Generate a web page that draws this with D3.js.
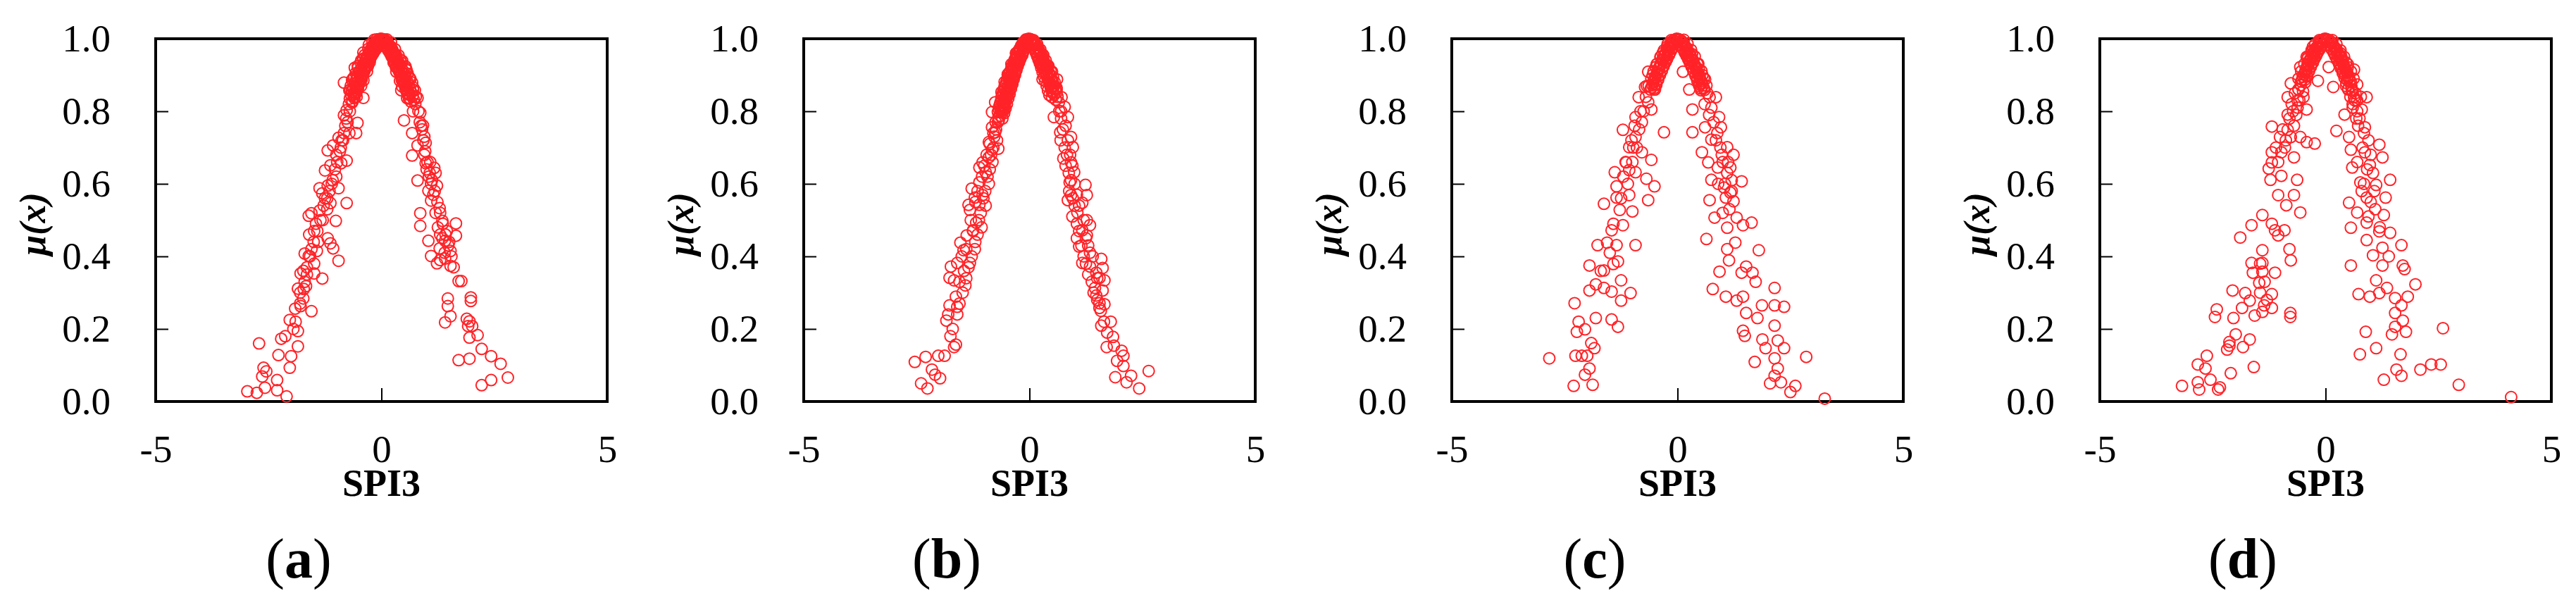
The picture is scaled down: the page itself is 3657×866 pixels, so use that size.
<!DOCTYPE html>
<html>
<head>
<meta charset="utf-8">
<script src="https://cdn.jsdelivr.net/npm/d3@7"></script>
<style>
  html, body { margin: 0; padding: 0; background: #fff; }
  svg { display: block; }
</style>
</head>
<body>
<script>
// ---------- data ----------
const panelIds = ["a", "b", "c", "d"];
const xTickValues = [-5, 0, 5];
const yTickValues = [0, 0.2, 0.4, 0.6, 0.8, 1.0];
const xAxisTitle = "SPI3";

// (a) dense peak points
const coreA = [[-0.01,1.0],[-0.04,0.999],[-0.07,0.996],[-0.1,0.993],[-0.13,0.99],[-0.05,0.985],[-0.16,0.985],[-0.2,0.98],[-0.1,0.975],[-0.23,0.972],[-0.14,0.968],[-0.26,0.965],[-0.18,0.96],[-0.3,0.955],[-0.22,0.952],[-0.33,0.948],[-0.25,0.944],[-0.36,0.94],[-0.29,0.936],[-0.4,0.93],[-0.32,0.928],[-0.43,0.922],[-0.35,0.92],[-0.47,0.914],[-0.38,0.91],[-0.5,0.905],[-0.42,0.9],[-0.53,0.896],[-0.45,0.892],[-0.56,0.886],[-0.48,0.882],[-0.59,0.876],[-0.51,0.872],[-0.62,0.865],[-0.54,0.862],[-0.65,0.855],[-0.57,0.85],[-0.67,0.845],[-0.6,0.84],[-0.7,0.835],[-0.27,0.962],[-0.4,0.945],[-0.52,0.92],[-0.3,0.925],[-0.6,0.895],[-0.45,0.87],[-0.68,0.87],[-0.55,0.84],[-0.08,0.982],[-0.2,0.958],
[-0.03,0.997],[-0.09,0.99],[-0.12,0.984],[-0.18,0.978],[-0.15,0.972],[-0.22,0.968],[-0.19,0.962],[-0.26,0.958],[-0.24,0.95],[-0.31,0.946],[-0.28,0.94],[-0.35,0.934],[-0.33,0.926],[-0.39,0.922],[-0.37,0.914],[-0.44,0.908],[-0.41,0.902],[-0.47,0.896],[-0.44,0.888],[-0.51,0.884],[-0.49,0.876],[-0.55,0.87],[-0.52,0.862],[-0.58,0.858],[-0.56,0.85],[-0.62,0.846],[-0.6,0.836],[-0.64,0.828],[-0.11,0.998],[-0.2,0.99],[-0.29,0.972],[-0.37,0.955],[-0.45,0.94],[-0.52,0.925],[-0.57,0.905],[-0.63,0.89],[-0.69,0.86],[-0.26,0.935],[-0.32,0.91],[-0.4,0.885],
[0.02,0.999],[0.05,0.998],[0.08,0.995],[0.11,0.992],[0.14,0.988],[0.06,0.984],[0.17,0.983],[0.21,0.978],[0.12,0.974],[0.24,0.97],[0.16,0.966],[0.27,0.962],[0.2,0.958],[0.31,0.953],[0.23,0.95],[0.34,0.946],[0.27,0.941],[0.37,0.937],[0.3,0.933],[0.41,0.928],[0.34,0.925],[0.44,0.92],[0.37,0.916],[0.48,0.911],[0.4,0.907],[0.51,0.902],[0.44,0.897],[0.54,0.893],[0.47,0.888],[0.57,0.883],[0.5,0.879],[0.6,0.873],[0.53,0.869],[0.63,0.862],[0.56,0.858],[0.66,0.852],[0.59,0.847],[0.69,0.842],[0.62,0.837],[0.72,0.832],[0.28,0.96],[0.42,0.942],[0.54,0.918],[0.32,0.922],[0.62,0.892],[0.46,0.868],[0.7,0.866],[0.57,0.836],[0.09,0.98],[0.22,0.955],
[0.03,0.996],[0.09,0.991],[0.13,0.985],[0.19,0.979],[0.16,0.971],[0.23,0.967],[0.2,0.961],[0.27,0.957],[0.25,0.949],[0.32,0.945],[0.29,0.939],[0.36,0.933],[0.34,0.925],[0.4,0.921],[0.38,0.913],[0.45,0.907],[0.42,0.901],[0.48,0.895],[0.45,0.887],[0.52,0.883],[0.5,0.875],[0.56,0.869],[0.53,0.861],[0.59,0.857],[0.57,0.849],[0.63,0.845],[0.61,0.835],[0.65,0.827],[0.12,0.998],[0.21,0.99],[0.3,0.971],[0.38,0.954],[0.46,0.939],[0.53,0.924],[0.58,0.904],[0.64,0.889],[0.7,0.859],[0.27,0.934],[0.33,0.909],[0.41,0.884]];
// (a) spread points
const pointsA = [[-2.97,0.028],[-2.76,0.024],[-2.71,0.16],[-2.61,0.093],[-2.55,0.083],[-2.64,0.069],[-2.31,0.059],[-2.31,0.031],[-2.58,0.038],[-2.10,0.014],[-2.03,0.093],[-2.0,0.125],[-2.28,0.128],[-1.85,0.152],[-2.22,0.173],[-2.13,0.18],[-2.03,0.225],[-1.85,0.194],[-1.91,0.256],[-1.79,0.263],[-1.55,0.249],[-1.73,0.284],[-1.85,0.311],[-1.67,0.318],[-1.79,0.353],[-1.73,0.36],[-1.49,0.353],[-1.70,0.408],[-1.31,0.339],[-1.61,0.401],[-1.49,0.38],[-1.43,0.415],[-1.13,0.436],[-0.95,0.388],[-1.49,0.47],[-1.19,0.45],[-1.07,0.422],[-1.61,0.512],[-1.55,0.519],[-1.37,0.526],[-1.31,0.574],[-1.13,0.547],[-1.01,0.498],[-0.77,0.547],[-1.37,0.588],[-1.19,0.595],[-0.95,0.588],[-1.25,0.637],[-1.13,0.651],[-0.89,0.657],[-0.77,0.664],[-1.19,0.692],[-1.07,0.706],[-0.95,0.727],[-0.83,0.74],[-0.71,0.74],[-0.56,0.74],[-0.53,0.768],[-0.83,0.789],[-0.77,0.803],[-0.65,0.824],[-0.40,0.837],[-0.83,0.879],[-0.71,0.858],[-0.65,0.886],[-0.53,0.893],[-0.59,0.92],[-0.46,0.934],[-0.40,0.962],[-0.28,0.983],[-0.16,0.997],
[-1.6,0.46],[-1.45,0.49],[-1.3,0.5],[-1.2,0.53],[-1.25,0.56],[-1.1,0.6],[-1.0,0.62],[-0.9,0.7],[-1.0,0.68],[-0.85,0.72],[-0.75,0.77],[-0.7,0.8],[-0.6,0.85],[-1.65,0.37],[-1.55,0.42],[-1.4,0.44],[-1.8,0.3],[-1.7,0.33],[-1.9,0.22],[-1.95,0.2],
[-0.72,0.82],[-0.78,0.78],[-0.8,0.76],[-0.88,0.72],[-0.92,0.69],[-0.98,0.66],[-1.03,0.64],[-1.08,0.61],[-1.15,0.58],[-1.2,0.56],[-1.28,0.54],[-1.35,0.5],[-1.42,0.47],[-1.5,0.44],[-1.58,0.4],[-1.65,0.35],[-1.72,0.31],[-1.8,0.27],
[0.08,0.997],[0.2,0.976],[0.32,0.955],[0.44,0.934],[0.56,0.913],[0.62,0.893],[0.68,0.879],[0.44,0.858],[0.74,0.858],[0.80,0.837],[0.86,0.796],[0.50,0.775],[0.92,0.761],[0.68,0.74],[0.98,0.713],[0.80,0.706],[0.68,0.678],[0.98,0.657],[1.17,0.644],[0.80,0.609],[1.23,0.595],[1.04,0.581],[1.10,0.554],[0.86,0.519],[1.29,0.533],[1.65,0.491],[0.86,0.484],[1.35,0.498],[1.65,0.457],[1.04,0.443],[1.41,0.443],[1.29,0.422],[1.53,0.415],[1.10,0.401],[1.23,0.381],[1.53,0.374],[1.41,0.394],[1.71,0.332],[1.77,0.332],[1.47,0.284],[1.47,0.263],[1.98,0.287],[1.98,0.277],[1.53,0.235],[1.41,0.218],[1.89,0.228],[1.95,0.221],[2.01,0.208],[1.92,0.208],[2.13,0.183],[1.95,0.176],[2.22,0.145],[2.43,0.125],[1.71,0.114],[1.95,0.118],[2.64,0.104],[2.80,0.066],[2.43,0.059],[2.22,0.045],
[0.9,0.75],[0.95,0.68],[1.0,0.64],[1.05,0.62],[1.1,0.6],[1.15,0.57],[1.2,0.52],[1.25,0.48],[1.3,0.46],[1.35,0.45],[1.45,0.47],[1.5,0.44],[1.4,0.41],[1.3,0.39],[0.75,0.82],[0.7,0.8],[0.95,0.73],[1.08,0.66],[1.2,0.63],[0.85,0.77],
[0.76,0.84],[0.82,0.8],[0.88,0.76],[0.93,0.72],[0.97,0.69],[1.02,0.66],[1.07,0.63],[1.12,0.61],[1.18,0.58],[1.24,0.55],[1.3,0.52],[1.36,0.49],[1.42,0.46],[1.48,0.43],[1.55,0.4],[1.6,0.37]];

// (b)
const coreB = [[-0.02,1.0],[-0.05,0.998],[-0.08,0.995],[-0.11,0.99],[-0.06,0.985],[-0.14,0.985],[-0.17,0.978],[-0.1,0.975],[-0.2,0.97],[-0.13,0.965],[-0.23,0.962],[-0.16,0.955],[-0.26,0.952],[-0.2,0.945],[-0.29,0.942],[-0.23,0.935],[-0.32,0.93],[-0.26,0.925],[-0.35,0.92],[-0.29,0.913],[-0.38,0.908],[-0.32,0.9],[-0.41,0.895],[-0.35,0.888],[-0.44,0.882],[-0.38,0.875],[-0.47,0.868],[-0.41,0.862],[-0.5,0.855],[-0.44,0.848],[-0.53,0.842],[-0.47,0.835],[-0.56,0.828],[-0.5,0.82],[-0.59,0.815],[-0.53,0.808],[-0.62,0.8],[-0.56,0.795],[-0.65,0.788],[-0.6,0.78],[-0.68,0.775],[-0.3,0.96],[-0.4,0.93],[-0.48,0.9],[-0.55,0.87],[-0.6,0.845],[-0.25,0.94],[-0.36,0.895],
[-0.03,0.998],[-0.08,0.998],[-0.06,0.99],[-0.14,0.99],[-0.09,0.982],[-0.18,0.982],[-0.12,0.974],[-0.21,0.974],[-0.14,0.966],[-0.25,0.966],[-0.17,0.958],[-0.28,0.958],[-0.2,0.95],[-0.3,0.95],[-0.22,0.942],[-0.33,0.942],[-0.25,0.934],[-0.35,0.934],[-0.27,0.926],[-0.38,0.926],[-0.29,0.918],[-0.4,0.918],[-0.31,0.91],[-0.43,0.91],[-0.33,0.902],[-0.45,0.902],[-0.36,0.894],[-0.47,0.894],[-0.38,0.886],[-0.5,0.886],[-0.4,0.878],[-0.52,0.878],[-0.42,0.87],[-0.54,0.87],[-0.44,0.862],[-0.56,0.862],[-0.46,0.854],[-0.58,0.854],[-0.48,0.846],[-0.6,0.846],[-0.5,0.838],[-0.62,0.838],[-0.52,0.83],[-0.63,0.83],[-0.54,0.822],[-0.65,0.822],[-0.55,0.814],[-0.67,0.814],[-0.57,0.806],[-0.68,0.806],[-0.59,0.798],[-0.7,0.798],[-0.07,0.994],[-0.15,0.978],[-0.22,0.962],[-0.28,0.946],[-0.32,0.93],[-0.37,0.914],[-0.41,0.898],[-0.45,0.882],[-0.49,0.866],[-0.53,0.85],[-0.57,0.834],[-0.6,0.818],[-0.64,0.802],
[0.02,0.999],[0.05,0.997],[0.08,0.993],[0.11,0.988],[0.06,0.983],[0.14,0.982],[0.17,0.975],[0.11,0.972],[0.2,0.967],[0.14,0.962],[0.23,0.958],[0.17,0.952],[0.26,0.948],[0.2,0.942],[0.29,0.938],[0.23,0.932],[0.32,0.927],[0.26,0.92],[0.35,0.915],[0.29,0.908],[0.38,0.903],[0.32,0.895],[0.41,0.89],[0.35,0.883],[0.44,0.877],[0.38,0.87],[0.47,0.865],[0.41,0.857],[0.5,0.852],[0.44,0.845],[0.3,0.955],[0.4,0.925],[0.48,0.89],[0.52,0.87],[0.25,0.93],
[0.03,0.997],[0.08,0.992],[0.06,0.989],[0.14,0.984],[0.1,0.981],[0.18,0.976],[0.13,0.972],[0.21,0.968],[0.16,0.963],[0.25,0.96],[0.19,0.954],[0.28,0.951],[0.22,0.945],[0.31,0.942],[0.25,0.936],[0.34,0.933],[0.28,0.927],[0.37,0.924],[0.31,0.918],[0.4,0.915],[0.34,0.909],[0.43,0.906],[0.37,0.9],[0.46,0.897],[0.4,0.891],[0.49,0.888],[0.43,0.882],[0.52,0.879],[0.46,0.873],[0.55,0.87],[0.49,0.864],[0.57,0.861],[0.52,0.855],[0.6,0.852],[0.55,0.846],[0.62,0.84],[0.58,0.832],[0.65,0.825],[0.09,0.996],[0.17,0.985],[0.24,0.97],[0.3,0.955],[0.36,0.94],[0.42,0.925],[0.47,0.91],[0.52,0.895],[0.56,0.88],[0.6,0.865]];
const pointsB = [[-2.54,0.109],[-2.30,0.123],[-2.40,0.050],[-2.26,0.036],[-2.16,0.088],[-2.09,0.074],[-1.98,0.064],[-2.02,0.126],[-1.88,0.126],[-1.67,0.150],[-1.63,0.157],[-1.84,0.223],[-1.80,0.240],[-1.77,0.265],[-1.60,0.261],[-1.63,0.289],[-1.77,0.341],[-1.67,0.334],[-1.42,0.320],[-1.74,0.372],[-1.60,0.382],[-1.32,0.382],[-1.53,0.438],[-1.46,0.417],[-1.21,0.420],[-1.39,0.458],[-1.25,0.472],[-1.18,0.493],[-1.32,0.528],[-1.35,0.542],[-1.21,0.562],[-1.28,0.587],[-1.11,0.542],[-1.04,0.569],[-1.11,0.604],[-0.97,0.632],[-1.11,0.645],[-1.04,0.659],[-0.90,0.673],[-0.83,0.694],[-0.69,0.697],[-0.90,0.715],[-0.83,0.756],[-0.76,0.742],[-0.69,0.784],[-0.83,0.798],[-0.62,0.805],[-0.76,0.825],[-0.62,0.853],[-0.55,0.881],[-0.48,0.902],[-0.41,0.881],[-0.34,0.922],[-0.27,0.950],[-0.16,0.978],[-0.06,0.995],
[-1.2,0.55],[-1.15,0.58],[-1.05,0.62],[-1.0,0.65],[-0.95,0.68],[-0.88,0.71],[-0.8,0.74],[-0.75,0.77],[-1.3,0.5],[-1.25,0.47],[-1.4,0.42],[-1.5,0.4],[-1.45,0.36],[-1.55,0.33],
[-0.7,0.77],[-0.74,0.75],[-0.78,0.73],[-0.72,0.72],[-0.8,0.7],[-0.85,0.68],[-0.82,0.66],[-0.88,0.64],[-0.93,0.62],[-0.9,0.6],[-0.98,0.58],[-1.02,0.56],[-0.97,0.54],[-1.08,0.52],[-1.12,0.5],[-1.06,0.48],[-1.15,0.46],[-1.2,0.44],[-1.28,0.4],[-1.35,0.37],[-1.4,0.34],[-1.48,0.3],[-1.55,0.27],[-1.6,0.24],[-1.7,0.2],[-1.75,0.18],
[0.08,0.995],[0.22,0.964],[0.36,0.929],[0.50,0.909],[0.29,0.888],[0.61,0.888],[0.50,0.839],[0.71,0.839],[0.78,0.812],[0.54,0.784],[0.85,0.784],[0.68,0.742],[0.92,0.729],[0.96,0.701],[0.75,0.670],[0.92,0.659],[0.99,0.632],[0.89,0.604],[1.24,0.597],[0.92,0.569],[1.27,0.569],[0.85,0.555],[1.17,0.548],[1.06,0.521],[1.27,0.500],[1.34,0.486],[1.17,0.472],[1.27,0.458],[1.10,0.427],[1.34,0.410],[1.59,0.393],[1.17,0.382],[1.34,0.372],[1.62,0.368],[1.48,0.355],[1.55,0.341],[1.66,0.334],[1.45,0.313],[1.62,0.306],[1.48,0.292],[1.55,0.271],[1.66,0.268],[1.55,0.258],[1.59,0.209],[1.80,0.220],[1.85,0.178],[1.71,0.150],[1.87,0.154],[2.04,0.140],[2.08,0.126],[1.94,0.112],[2.08,0.098],[2.64,0.084],[1.90,0.067],[2.25,0.071],[2.15,0.053],[2.43,0.036],
[0.6,0.86],[0.7,0.8],[0.8,0.76],[0.85,0.72],[0.9,0.68],[0.95,0.65],[1.0,0.6],[1.05,0.57],[1.1,0.54],[1.2,0.5],[1.25,0.45],[1.3,0.43],[1.4,0.4],[1.5,0.34],
[0.66,0.8],[0.7,0.78],[0.74,0.75],[0.69,0.72],[0.78,0.7],[0.83,0.68],[0.8,0.65],[0.87,0.63],[0.92,0.61],[0.88,0.58],[0.96,0.56],[1.0,0.54],[0.95,0.51],[1.05,0.49],[1.1,0.47],[1.05,0.45],[1.15,0.43],[1.2,0.4],[1.25,0.38],[1.3,0.35],[1.38,0.33],[1.42,0.3],[1.5,0.28],[1.58,0.25],[1.65,0.22],[1.72,0.19]];

// (c)
const coreC = [[-0.02,1.0],[-0.05,0.998],[-0.09,0.995],[-0.12,0.99],[-0.06,0.986],[-0.15,0.984],[-0.19,0.977],[-0.11,0.975],[-0.22,0.97],[-0.15,0.965],[-0.26,0.962],[-0.19,0.955],[-0.3,0.952],[-0.23,0.945],[-0.34,0.942],[-0.27,0.935],[-0.38,0.93],[-0.31,0.925],[-0.42,0.918],[-0.35,0.912],[-0.46,0.905],[-0.39,0.9],[-0.5,0.893],[-0.43,0.887],[-0.54,0.88],[-0.47,0.873],[-0.58,0.866],[-0.5,0.86],[-0.33,0.96],[-0.45,0.93],[-0.55,0.9],[-0.25,0.94],
[-0.03,0.997],[-0.1,0.99],[-0.08,0.984],[-0.17,0.978],[-0.13,0.972],[-0.22,0.968],[-0.18,0.96],[-0.27,0.956],[-0.23,0.948],[-0.31,0.944],[-0.27,0.936],[-0.36,0.932],[-0.31,0.924],[-0.4,0.92],[-0.35,0.912],[-0.44,0.908],[-0.4,0.9],[-0.48,0.896],[-0.44,0.888],[-0.52,0.884],[-0.48,0.876],[-0.56,0.872],[-0.52,0.864],[-0.6,0.86],[-0.14,0.996],[-0.22,0.985],[-0.3,0.968],[-0.38,0.95],[-0.46,0.93],[-0.53,0.91],[-0.58,0.89],[-0.64,0.87],
[0.02,0.999],[0.05,0.997],[0.09,0.994],[0.12,0.989],[0.07,0.984],[0.15,0.982],[0.19,0.976],[0.12,0.972],[0.22,0.968],[0.16,0.962],[0.26,0.96],[0.2,0.953],[0.3,0.95],[0.24,0.943],[0.34,0.94],[0.28,0.933],[0.38,0.928],[0.32,0.922],[0.42,0.916],[0.36,0.91],[0.46,0.903],[0.4,0.897],[0.5,0.89],[0.44,0.884],[0.54,0.877],[0.48,0.87],[0.58,0.864],[0.52,0.858],[0.32,0.958],[0.44,0.93],[0.55,0.9],[0.26,0.94],
[0.03,0.996],[0.1,0.991],[0.08,0.983],[0.17,0.979],[0.13,0.971],[0.22,0.967],[0.18,0.959],[0.27,0.955],[0.23,0.947],[0.31,0.943],[0.27,0.935],[0.36,0.931],[0.31,0.923],[0.4,0.919],[0.35,0.911],[0.44,0.907],[0.4,0.899],[0.48,0.895],[0.44,0.887],[0.52,0.883],[0.48,0.875],[0.56,0.871],[0.52,0.863],[0.6,0.859],[0.14,0.997],[0.22,0.986],[0.3,0.969],[0.38,0.951],[0.46,0.931],[0.53,0.911],[0.58,0.891],[0.64,0.871]];
const pointsC = [[-2.84,0.119],[-2.30,0.043],[-1.88,0.046],[-2.05,0.074],[-1.95,0.091],[-2.26,0.126],[-2.12,0.126],[-2.00,0.126],[-1.84,0.147],[-1.91,0.161],[-2.23,0.192],[-2.19,0.220],[-2.05,0.199],[-1.81,0.230],[-1.46,0.226],[-1.32,0.206],[-2.28,0.271],[-1.95,0.306],[-1.81,0.323],[-1.63,0.313],[-1.46,0.303],[-1.25,0.334],[-1.04,0.299],[-1.25,0.278],[-1.95,0.375],[-1.63,0.361],[-1.42,0.379],[-1.32,0.386],[-1.77,0.431],[-1.56,0.438],[-1.35,0.431],[-0.93,0.431],[-1.46,0.472],[-1.21,0.486],[-1.42,0.490],[-1.63,0.545],[-1.28,0.528],[-1.00,0.524],[-1.35,0.562],[-1.07,0.569],[-0.65,0.555],[-1.35,0.593],[-0.51,0.593],[-0.69,0.614],[-1.39,0.632],[-1.07,0.638],[-1.14,0.659],[-0.93,0.632],[-0.58,0.666],[-1.07,0.701],[-0.79,0.687],[-1.21,0.749],[-0.93,0.729],[-0.30,0.742],[-0.93,0.784],[-0.79,0.770],[-0.58,0.805],[-0.86,0.839],[-0.65,0.825],[-0.72,0.867],[-0.51,0.860],[-0.65,0.909],[-0.48,0.922],[-0.37,0.950],[-0.23,0.978],[-0.13,0.992],
[-1.1,0.6],[-1.0,0.66],[-0.9,0.7],[-0.85,0.75],[-0.75,0.8],[-0.7,0.84],[-1.2,0.62],[-1.25,0.56],[-1.5,0.41],[-1.7,0.36],[-1.02,0.72],[-0.95,0.76],[-0.82,0.8],[-0.68,0.87],[-1.15,0.66],[-0.98,0.7],
[0.08,0.992],[0.19,0.964],[0.33,0.943],[0.47,0.916],[0.12,0.909],[0.61,0.888],[0.26,0.860],[0.71,0.839],[0.85,0.839],[0.33,0.805],[0.92,0.784],[0.33,0.742],[0.61,0.756],[0.96,0.756],[0.75,0.722],[1.10,0.701],[0.54,0.687],[1.24,0.680],[0.68,0.659],[0.89,0.645],[1.17,0.645],[0.75,0.611],[1.42,0.607],[1.03,0.590],[1.17,0.576],[0.71,0.555],[1.07,0.562],[1.24,0.552],[0.82,0.507],[1.31,0.507],[1.64,0.493],[1.10,0.479],[1.45,0.486],[0.64,0.448],[1.28,0.438],[1.10,0.420],[1.80,0.417],[1.14,0.389],[1.52,0.372],[0.93,0.358],[1.42,0.355],[1.66,0.355],[1.73,0.330],[0.78,0.310],[1.07,0.289],[1.31,0.278],[1.45,0.289],[2.15,0.313],[1.87,0.265],[2.15,0.265],[2.36,0.261],[1.52,0.244],[1.77,0.230],[2.15,0.209],[1.45,0.195],[1.49,0.181],[1.88,0.171],[2.22,0.168],[2.36,0.147],[1.95,0.147],[1.71,0.109],[2.85,0.123],[2.15,0.119],[2.22,0.091],[2.15,0.071],[2.05,0.050],[2.29,0.053],[2.61,0.043],[2.50,0.026],[3.26,0.008],
[0.6,0.82],[0.7,0.79],[0.8,0.77],[0.85,0.72],[0.95,0.7],[1.0,0.66],[1.1,0.63],[1.05,0.6],[0.9,0.6],[1.2,0.58],[1.15,0.53],[1.0,0.52],[0.66,0.85],[0.75,0.81],[0.88,0.74],[0.98,0.68],[1.12,0.66],[1.2,0.61]];

// (d)
const coreD = [[-0.02,1.0],[-0.05,0.998],[-0.09,0.995],[-0.12,0.99],[-0.06,0.985],[-0.16,0.983],[-0.2,0.976],[-0.12,0.974],[-0.24,0.968],[-0.17,0.963],[-0.28,0.96],[-0.21,0.953],[-0.32,0.95],[-0.25,0.944],[-0.36,0.94],[-0.29,0.933],[-0.4,0.928],[-0.33,0.922],[-0.44,0.915],[-0.37,0.91],[-0.48,0.902],[-0.41,0.896],[-0.52,0.888],[-0.45,0.88],[-0.55,0.872],[-0.6,0.86],[-0.5,0.855],[-0.58,0.83],[-0.62,0.81],[-0.3,0.965],[-0.4,0.945],
[-0.03,0.997],[-0.1,0.99],[-0.08,0.983],[-0.17,0.978],[-0.13,0.971],[-0.23,0.967],[-0.19,0.959],[-0.28,0.955],[-0.24,0.947],[-0.32,0.943],[-0.28,0.935],[-0.37,0.931],[-0.33,0.923],[-0.41,0.919],[-0.37,0.911],[-0.45,0.907],[-0.42,0.899],[-0.5,0.895],[-0.46,0.887],[-0.54,0.882],[-0.14,0.996],[-0.23,0.985],[-0.31,0.968],[-0.39,0.95],[-0.47,0.93],[-0.54,0.91],[-0.6,0.89],
[0.02,0.999],[0.06,0.997],[0.1,0.994],[0.13,0.989],[0.07,0.984],[0.17,0.982],[0.21,0.975],[0.13,0.972],[0.25,0.967],[0.18,0.961],[0.29,0.958],[0.22,0.951],[0.33,0.948],[0.26,0.941],[0.37,0.937],[0.3,0.93],[0.41,0.925],[0.34,0.918],[0.45,0.912],[0.38,0.905],[0.49,0.898],[0.42,0.892],[0.53,0.885],[0.46,0.878],[0.57,0.87],[0.5,0.862],[0.6,0.855],[0.55,0.84],[0.65,0.83],[0.6,0.81],[0.7,0.8],[0.33,0.96],[0.45,0.935],
[0.03,0.996],[0.11,0.991],[0.08,0.983],[0.18,0.978],[0.14,0.971],[0.24,0.966],[0.2,0.958],[0.29,0.954],[0.25,0.946],[0.34,0.942],[0.3,0.934],[0.39,0.93],[0.35,0.922],[0.43,0.918],[0.39,0.91],[0.48,0.906],[0.44,0.898],[0.52,0.894],[0.48,0.886],[0.56,0.881],[0.15,0.996],[0.24,0.985],[0.33,0.968],[0.41,0.95],[0.49,0.93],[0.56,0.91],[0.62,0.89],[0.58,0.86],[0.66,0.85],[0.7,0.83]];
const pointsD = [[-3.18,0.043],[-2.83,0.053],[-2.80,0.033],[-2.38,0.033],[-2.34,0.039],[-2.55,0.060],[-2.83,0.102],[-2.66,0.091],[-2.63,0.126],[-2.10,0.078],[-1.59,0.095],[-2.18,0.143],[-2.13,0.154],[-2.13,0.164],[-1.99,0.185],[-1.83,0.150],[-1.68,0.171],[-2.45,0.233],[-2.41,0.254],[-2.04,0.230],[-1.85,0.258],[-1.57,0.237],[-1.40,0.247],[-1.19,0.258],[-0.78,0.244],[-0.78,0.233],[-2.06,0.306],[-1.78,0.299],[-1.68,0.278],[-1.47,0.327],[-1.19,0.296],[-1.36,0.265],[-1.61,0.355],[-1.40,0.358],[-1.12,0.355],[-1.64,0.382],[-1.40,0.382],[-1.40,0.417],[-0.80,0.420],[-0.77,0.389],[-1.89,0.452],[-1.64,0.486],[-1.40,0.514],[-1.19,0.490],[-1.05,0.458],[-0.91,0.472],[-1.12,0.472],[-1.05,0.569],[-0.70,0.569],[-0.87,0.541],[-0.56,0.521],[-0.63,0.611],[-1.22,0.611],[-0.98,0.622],[-1.19,0.659],[-1.26,0.642],[-0.98,0.687],[-0.70,0.673],[-1.19,0.687],[-1.01,0.729],[-0.77,0.729],[-0.42,0.715],[-0.24,0.711],[-1.19,0.758],[-0.84,0.749],[-0.56,0.729],[-0.84,0.791],[-0.42,0.805],[-0.84,0.839],[-0.49,0.839],[-0.77,0.877],[-0.17,0.884],[-0.56,0.922],[-0.42,0.950],[-0.28,0.978],[-0.14,0.992],
[-0.9,0.7],[-1.05,0.66],[-0.95,0.75],[-0.7,0.76],[-0.65,0.79],[-0.75,0.82],[-0.6,0.86],[-1.45,0.38],[-1.35,0.33],[-1.45,0.3],[-1.3,0.28],[-0.68,0.85],[-0.72,0.8],[-0.8,0.78],[-0.88,0.72],[-1.1,0.7],[-0.62,0.83],
[0.10,0.992],[0.24,0.971],[0.35,0.950],[0.49,0.922],[0.63,0.915],[0.07,0.922],[0.17,0.867],[0.70,0.874],[0.91,0.839],[0.63,0.839],[0.42,0.791],[0.80,0.805],[0.24,0.746],[0.52,0.729],[0.87,0.756],[1.19,0.708],[0.56,0.694],[1.26,0.673],[0.87,0.687],[0.59,0.645],[0.98,0.652],[1.43,0.611],[0.77,0.604],[1.12,0.597],[1.33,0.562],[0.52,0.548],[0.91,0.562],[0.70,0.521],[1.29,0.514],[0.56,0.479],[0.91,0.493],[1.19,0.469],[1.43,0.465],[0.91,0.445],[1.68,0.431],[1.26,0.424],[1.05,0.403],[1.40,0.400],[0.56,0.375],[1.26,0.375],[1.71,0.375],[1.75,0.365],[1.12,0.334],[1.99,0.323],[0.73,0.296],[0.98,0.289],[1.19,0.299],[1.36,0.313],[1.54,0.285],[1.82,0.289],[1.68,0.265],[1.54,0.244],[1.71,0.223],[1.54,0.206],[1.78,0.192],[1.47,0.185],[0.89,0.192],[2.60,0.202],[1.12,0.147],[0.76,0.130],[1.66,0.130],[1.57,0.088],[1.68,0.071],[1.29,0.060],[2.10,0.088],[2.34,0.102],[2.55,0.102],[2.95,0.046],[4.11,0.012],
[0.75,0.78],[0.85,0.74],[0.95,0.72],[1.0,0.68],[0.7,0.66],[1.05,0.63],[0.85,0.6],[1.0,0.55],[1.1,0.53],[0.95,0.51],[1.2,0.48],[0.8,0.58],[0.6,0.82],[0.5,0.86],[0.45,0.87],[0.78,0.84],[0.72,0.76],[0.82,0.7],[0.92,0.64],[1.08,0.58],[0.68,0.78]];

const panelData = [coreA.concat(pointsA), coreB.concat(pointsB), coreC.concat(pointsC), coreD.concat(pointsD)];

// ---------- layout ----------
const W = 3657, H = 866;
const panelLeft = [221, 1141, 2061, 2981];
const plotW = 641, plotTop = 55, plotBottom = 570;
const red = "#ff2328";
const serif = "'Liberation Serif', 'Times New Roman', Times, 'DejaVu Serif', serif";

const svg = d3.select("body").append("svg")
  .attr("width", W).attr("height", H)
  .style("font-family", serif);

panelIds.forEach((id, i) => {
  const g = svg.append("g").attr("transform", `translate(${panelLeft[i]},0)`);
  const x = d3.scaleLinear().domain([-5, 5]).range([0, plotW]);
  const y = d3.scaleLinear().domain([0, 1]).range([plotBottom, plotTop]);

  // frame
  g.append("rect")
    .attr("x", x(-5)).attr("y", y(1))
    .attr("width", x(5) - x(-5)).attr("height", y(0) - y(1))
    .attr("fill", "none").attr("stroke", "#000").attr("stroke-width", 4);

  // x axis
  const gx = g.append("g").attr("transform", `translate(0,${plotBottom})`)
    .call(d3.axisBottom(x).tickValues(xTickValues).tickSize(-19).tickPadding(47)
      .tickFormat(d => String(d)));
  // y axis
  const gy = g.append("g")
    .call(d3.axisLeft(y).tickValues(yTickValues).tickSize(-18).tickPadding(64)
      .tickFormat(d => d.toFixed(1)));
  [gx, gy].forEach(ax => {
    ax.attr("font-family", null).attr("font-size", null);
    ax.select(".domain").remove();
    ax.selectAll(".tick line").attr("stroke", "#000").attr("stroke-width", 2);
    ax.selectAll(".tick text").attr("fill", "#000")
      .style("font-size", "55px").style("font-family", serif);
  });

  // points
  g.append("g").selectAll("circle")
    .data(panelData[i])
    .join("circle")
    .attr("cx", d => x(d[0]))
    .attr("cy", d => y(d[1]))
    .attr("r", 8)
    .attr("fill", "none")
    .attr("stroke", red)
    .attr("stroke-width", 2);

  // y title
  const yt = g.append("text")
    .attr("transform", `translate(-157,318) rotate(-90)`)
    .attr("text-anchor", "middle")
    .style("font-size", "52px").style("font-weight", "bold").style("font-style", "italic");
  yt.append("tspan").text("\u03BC");
  yt.append("tspan").text("(x)");

  // x title
  g.append("text")
    .attr("x", x(0)).attr("y", 704)
    .attr("text-anchor", "middle")
    .style("font-size", "54px").style("font-weight", "bold")
    .text(xAxisTitle);

  // panel label
  const pl = g.append("text")
    .attr("x", 203).attr("y", 820)
    .attr("text-anchor", "middle")
    .style("font-size", "80px");
  pl.append("tspan").text("(");
  pl.append("tspan").style("font-weight", "bold").text(id);
  pl.append("tspan").text(")");
});
</script>
</body>
</html>
